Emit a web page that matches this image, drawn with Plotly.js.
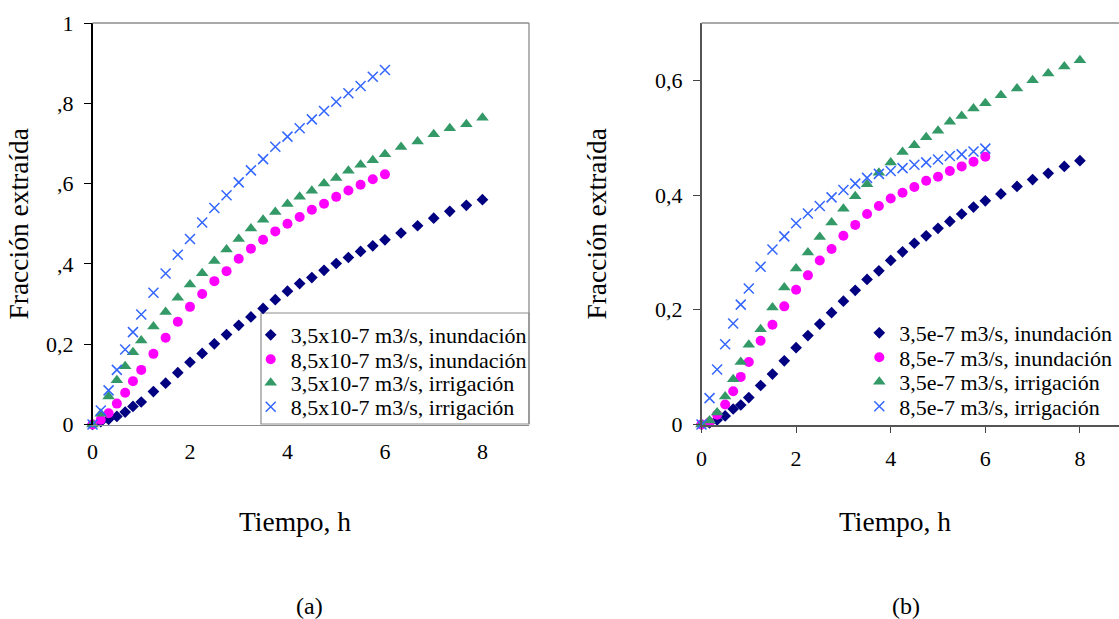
<!DOCTYPE html>
<html><head><meta charset="utf-8">
<script src="https://cdn.plot.ly/plotly-3.0.1.min.js"></script>
<style>html,body{margin:0;padding:0;background:#fff}</style>
</head><body><div id="chart" style="width:1119px;height:619px"></div>
<script>
// Time (h)
const tLong = [0,0.17,0.33,0.5,0.67,0.83,1.0,1.25,1.5,1.75,2.0,2.25,2.5,2.75,3.0,3.25,3.5,3.75,4.0,4.25,4.5,4.75,5.0,5.25,5.5,5.75,6.0,6.33,6.67,7.0,7.33,7.67,8.0];
const tShort = [0,0.17,0.33,0.5,0.67,0.83,1.0,1.25,1.5,1.75,2.0,2.25,2.5,2.75,3.0,3.25,3.5,3.75,4.0,4.25,4.5,4.75,5.0,5.25,5.5,5.75,6.0];

// (a)
const a_q35_inund = [0,0.007,0.013,0.02,0.031,0.045,0.056,0.082,0.103,0.129,0.155,0.177,0.201,0.224,0.247,0.268,0.289,0.311,0.332,0.351,0.366,0.384,0.401,0.416,0.431,0.445,0.46,0.477,0.495,0.514,0.531,0.546,0.56];
const a_q85_inund = [0,0.012,0.028,0.052,0.079,0.108,0.136,0.176,0.216,0.256,0.293,0.325,0.357,0.382,0.413,0.438,0.46,0.481,0.5,0.517,0.535,0.55,0.567,0.583,0.597,0.611,0.623];
const a_q35_irrig = [0,0.027,0.07,0.11,0.145,0.18,0.209,0.244,0.28,0.316,0.349,0.377,0.407,0.436,0.462,0.488,0.51,0.529,0.549,0.567,0.582,0.6,0.614,0.632,0.647,0.658,0.673,0.691,0.705,0.723,0.738,0.748,0.764];
const a_q85_irrig = [0,0.035,0.085,0.136,0.187,0.23,0.274,0.328,0.376,0.423,0.462,0.503,0.539,0.571,0.603,0.633,0.661,0.692,0.717,0.738,0.76,0.781,0.804,0.825,0.843,0.866,0.883];

// (b)
const b_q35_inund = [0,0.003,0.008,0.015,0.027,0.034,0.047,0.068,0.088,0.111,0.134,0.155,0.175,0.195,0.215,0.234,0.253,0.268,0.286,0.301,0.316,0.329,0.342,0.354,0.367,0.379,0.39,0.402,0.415,0.427,0.438,0.45,0.46];
const b_q85_inund = [0,0.004,0.017,0.035,0.058,0.083,0.109,0.146,0.174,0.206,0.235,0.26,0.286,0.306,0.329,0.348,0.367,0.381,0.394,0.404,0.414,0.425,0.432,0.442,0.45,0.458,0.467];
const b_q35_irrig = [0,0.007,0.021,0.049,0.079,0.109,0.139,0.166,0.204,0.239,0.272,0.3,0.327,0.352,0.376,0.398,0.419,0.439,0.457,0.475,0.487,0.501,0.512,0.528,0.538,0.551,0.56,0.574,0.586,0.6,0.612,0.624,0.635];
const b_q85_irrig = [0,0.046,0.096,0.14,0.176,0.209,0.237,0.275,0.305,0.328,0.351,0.368,0.381,0.396,0.409,0.42,0.43,0.437,0.442,0.447,0.453,0.457,0.462,0.468,0.471,0.476,0.481];

const namesA = ['3,5x10-7 m3/s, inundación','8,5x10-7 m3/s, inundación','3,5x10-7 m3/s, irrigación','8,5x10-7 m3/s, irrigación'];
const namesB = ['3,5e-7 m3/s, inundación','8,5e-7 m3/s, inundación','3,5e-7 m3/s, irrigación','8,5e-7 m3/s, irrigación'];
const yTickValsA = [0,0.2,0.4,0.6,0.8,1];
const yTickTextA = ['0','0,2',',4',',6',',8','1'];
const yTickValsB = [0,0.2,0.4,0.6];
const yTickTextB = ['0','0,2','0,4','0,6'];
const xTickVals = [0,2,4,6,8];
const xTitle = 'Tiempo, h';
const yTitle = 'Fracción extraída';

const W = 1119, H = 619;
const FONT = 'Liberation Serif, Times New Roman, serif';
const markers = [
  {symbol:'diamond', size:9, color:'#000080'},
  {symbol:'circle', size:10, color:'#ff00ff'},
  {symbol:'triangle-up', size:11, color:'#339966'},
  {symbol:'x-thin-open', size:10, color:'#3366ff', line:{width:1.5, color:'#3366ff'}}
];

const dataA = [[tLong,a_q35_inund],[tShort,a_q85_inund],[tLong,a_q35_irrig],[tShort,a_q85_irrig]];
const dataB = [[tLong,b_q35_inund],[tShort,b_q85_inund],[tLong,b_q35_irrig],[tShort,b_q85_irrig]];

const traces = [];
dataA.forEach((d,i)=>traces.push({x:d[0],y:d[1],type:'scatter',mode:'markers',name:namesA[i],marker:markers[i],xaxis:'x',yaxis:'y',cliponaxis:false,legend:i===0?'legend':'legend'+(i+1)}));
dataB.forEach((d,i)=>traces.push({x:d[0],y:d[1],type:'scatter',mode:'markers',name:namesB[i],marker:markers[i],xaxis:'x2',yaxis:'y2',cliponaxis:false,legend:'legend'+(i+5)}));

const px = v => v/W, py = v => 1 - v/H;
const rowsA = [335,359.5,383,407];
const rowsB = [333,357.5,382,406.5];
function leg(xpx, ypx){
  return {x:px(xpx), xanchor:'left', y:py(ypx), yanchor:'middle', bgcolor:'rgba(0,0,0,0)', borderwidth:0, font:{family:FONT,size:22,color:'#000'}};
}

const yDom = [py(424.5), py(23)];
const layout = {
  width:W, height:H, margin:{l:0,r:0,t:0,b:0},
  paper_bgcolor:'#fff', plot_bgcolor:'#fff',
  font:{family:FONT, size:22, color:'#000'},
  showlegend:true,
  xaxis:{domain:[px(92.5), px(529)], range:[0,8.955], tickvals:xTickVals, ticks:'', showline:true, linecolor:'#8c8c8c', linewidth:1.3, showgrid:false, zeroline:false, anchor:'y', ticklabelstandoff:7},
  yaxis:{domain:yDom, range:[0,1], tickvals:yTickValsA, ticktext:yTickTextA, ticks:'outside', ticklen:7, tickcolor:'#000', showline:true, linecolor:'#000', linewidth:1.5, showgrid:false, zeroline:false, anchor:'x', ticklabelstandoff:6,
         title:{text:yTitle, font:{size:27.5}, standoff:9}},
  xaxis2:{domain:[px(701.5), 1], range:[0,8.826], tickvals:xTickVals, ticks:'outside', ticklen:6, tickcolor:'#444', showline:true, linecolor:'#555', linewidth:2, showgrid:false, zeroline:false, anchor:'y2', ticklabelstandoff:7},
  yaxis2:{domain:yDom, range:[0,0.7], tickvals:yTickValsB, ticktext:yTickTextB, ticks:'outside', ticklen:7, tickcolor:'#444', showline:true, linecolor:'#555', linewidth:1.5, showgrid:false, zeroline:false, anchor:'x2', ticklabelstandoff:6,
         title:{text:yTitle, font:{size:27.5}, standoff:40}},
  shapes:[
    {type:'rect', xref:'paper', yref:'paper', x0:px(261), x1:px(529), y0:py(424), y1:py(313), line:{color:'#8c8c8c', width:1.2}, fillcolor:'#fff', layer:'below'},
    {type:'line', xref:'paper', yref:'paper', x0:px(92.5), x1:px(529), y0:py(23), y1:py(23), line:{color:'#8c8c8c', width:1.3}},
    {type:'line', xref:'paper', yref:'paper', x0:px(529), x1:px(529), y0:py(23), y1:py(424), line:{color:'#8c8c8c', width:1.3}},
    {type:'line', xref:'paper', yref:'paper', x0:px(701.5), x1:1, y0:py(23), y1:py(23), line:{color:'#8c8c8c', width:1.3}}
  ],
  annotations:[
    {text:xTitle, xref:'paper', yref:'paper', x:px(295), y:py(521), xanchor:'center', yanchor:'middle', showarrow:false, font:{size:27.5}},
    {text:xTitle, xref:'paper', yref:'paper', x:px(895), y:py(521), xanchor:'center', yanchor:'middle', showarrow:false, font:{size:27.5}},
    {text:'(a)', xref:'paper', yref:'paper', x:px(309), y:py(606), xanchor:'center', yanchor:'middle', showarrow:false, font:{size:24}},
    {text:'(b)', xref:'paper', yref:'paper', x:px(906), y:py(606), xanchor:'center', yanchor:'middle', showarrow:false, font:{size:24}}
  ]
};
for(let i=0;i<4;i++){
  layout[i===0?'legend':'legend'+(i+1)] = leg(250.7, rowsA[i]);
  layout['legend'+(i+5)] = leg(859.3, rowsB[i]);
}
Plotly.newPlot('chart', traces, layout, {displayModeBar:false, staticPlot:true});
</script>
</body></html>
